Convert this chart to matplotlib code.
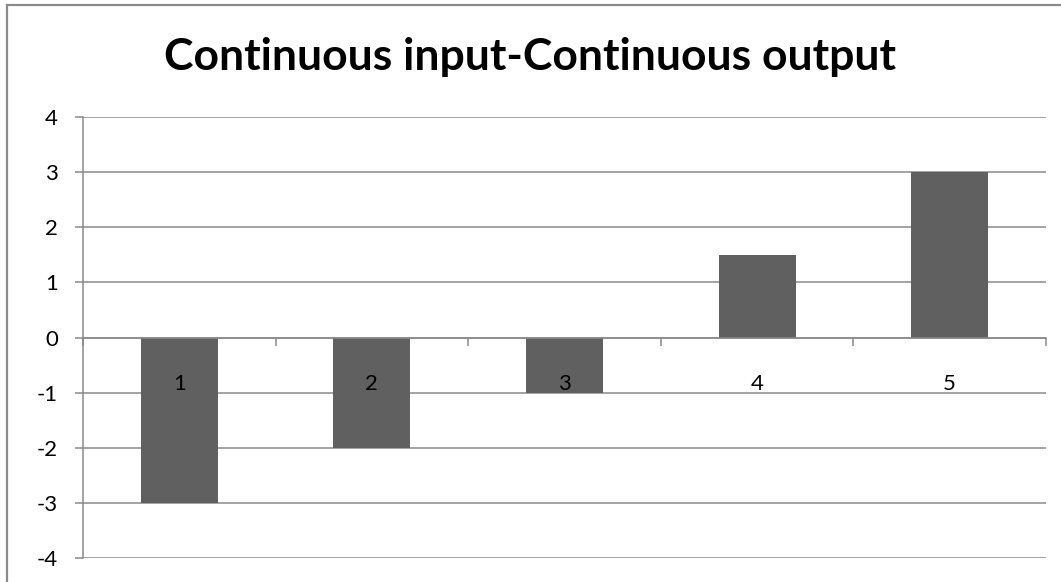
from matplotlib import pyplot as plt
from matplotlib.patches import Rectangle
import numpy as np

plt.rcParams["font.family"] = ["Lato", "DejaVu Sans"]

# data
categories = ["1", "2", "3", "4", "5"]
values = [-3, -2, -1, 1.5, 3]
yticks = [-4, -3, -2, -1, 0, 1, 2, 3, 4]
title = "Continuous input-Continuous output"

grey = "#8a8a8a"
bar_color = "#606060"

fig = plt.figure(figsize=(10.61, 5.82), dpi=100)
ax = fig.add_axes([83 / 1061, 1 - 558 / 582, (1046 - 83) / 1061, (558 - 117) / 582])

x = np.arange(len(categories))
ax.bar(x, values, width=0.4, color=bar_color, zorder=3)

ax.set_xlim(-0.5, len(categories) - 0.5)
ax.set_ylim(-4, 4)
ax.set_yticks(yticks)
ax.set_yticklabels([str(t) for t in yticks])
ax.yaxis.grid(True, color=grey, lw=1.1)
ax.yaxis.set_zorder(0.5)
ax.xaxis.set_zorder(5)  # category labels sit on top of the bars

# x axis sits on zero
for s in ("top", "right"):
    ax.spines[s].set_visible(False)
ax.spines["bottom"].set_position(("data", 0))
ax.spines["bottom"].set_color(grey)
ax.spines["bottom"].set_linewidth(1.1)
ax.spines["bottom"].set_zorder(4)
ax.spines["left"].set_color(grey)
ax.spines["left"].set_linewidth(1.1)

ax.set_xticks(x)
ax.set_xticklabels(categories)
ax.set_xticks(np.arange(len(categories) + 1) - 0.5, minor=True)
ax.tick_params(axis="x", which="major", length=0, pad=26, labelsize=16)
ax.tick_params(axis="x", which="minor", length=6, width=1.1, color=grey, direction="out")
ax.tick_params(axis="y", length=6, width=1.1, color=grey, pad=12, labelsize=16)

fig.text(0.5, 1 - 57 / 582, title, ha="center", va="center",
         fontsize=32, fontweight="bold")

# chart border
fig.patches.append(Rectangle((7 / 1061, -0.1), 2, 0.1 + (582 - 5) / 582,
                             transform=fig.transFigure, fill=False,
                             edgecolor=grey, lw=1.6))

fig.savefig("out.png", dpi=100)
